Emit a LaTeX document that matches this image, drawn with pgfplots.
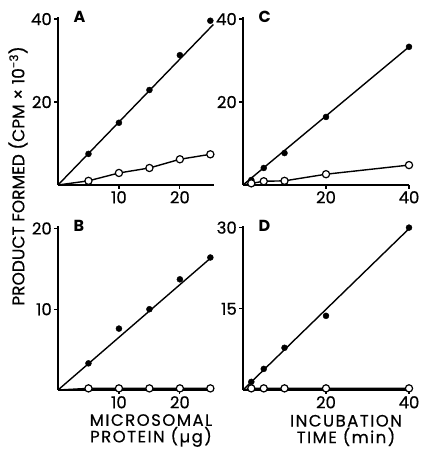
\documentclass[border=0pt]{standalone}
\usepackage{pgfplots}
\pgfplotsset{compat=1.18}
\usepackage{fontspec}
\setmainfont{Poppins}[UprightFeatures={FakeBold=0.5}]
\tikzset{letter/.style={font=\fontsize{16}{16}\selectfont\bfseries, anchor=west}}
\pgfplotsset{
  panel/.style={
    scale only axis, anchor=south west,
    axis x line=bottom, axis y line=left,
    axis line style={-, line width=1.6pt},
    xmin=0, ymin=0,
    tick align=outside, major tick length=4pt,
    tick style={line width=1.2pt, black},
    ticklabel style={font=\fontsize{16.5}{16.5}\selectfont, inner sep=2pt},
    /pgf/number format/assume math mode=true,
    clip=false,
  },
  fitline/.style={no marks, line width=1.4pt, black},
  openline/.style={no marks, line width=1.4pt, black},
  filledpts/.style={only marks, mark=*, mark size=3pt, mark options={fill=black, draw=black}},
  openpts/.style={only marks, mark=*, mark size=3.6pt, mark options={fill=white, draw=black, line width=1.2pt}},
}
\begin{document}
\begin{tikzpicture}[x=1pt,y=1pt]
\useasboundingbox (0,0) rectangle (421,449);
% Panel A
\begin{axis}[panel, at={(58pt,264pt)}, width=156pt, height=168pt,
  xmax=25.6, ymax=40.5, xtick={10,20}, ytick={20,40}]
\addplot[fitline] coordinates {(0,0) (25.5,38.7)};
\addplot[openline] coordinates {(0,0) (5,1.0) (10,2.9) (15,4.1) (20,6.2) (25,7.4)};
\addplot[filledpts] coordinates {(5,7.5) (10,15.0) (15,22.9) (20,31.3) (25,39.6)};
\addplot[openpts] coordinates {(5,1.0) (10,2.9) (15,4.1) (20,6.2) (25,7.4)};
\node[letter] at (rel axis cs:0,1) [xshift=12pt] {A};
\end{axis}
% Panel C
\begin{axis}[panel, at={(243pt,264pt)}, width=166pt, height=168pt,
  xmax=40, ymax=40.5, xtick={20,40}, ytick={20,40}]
\addplot[fitline] coordinates {(0,0) (40,33.3)};
\addplot[openline] coordinates {(0,0) (2,0.4) (5,0.9) (10,1.0) (20,2.6) (40,4.8)};
\addplot[filledpts] coordinates {(2,1.2) (5,4.1) (10,7.7) (20,16.4) (40,33.3)};
\addplot[openpts] coordinates {(2,0.4) (5,0.9) (10,1.0) (20,2.6) (40,4.8)};
\node[letter] at (rel axis cs:0,1) [xshift=12pt] {C};
\end{axis}
% Panel B
\begin{axis}[panel, at={(58pt,59pt)}, width=156pt, height=164pt,
  xmax=25.6, ymax=20.3, xtick={10,20}, ytick={10,20}]
\addplot[fitline] coordinates {(0,0) (25,16.3)};
\addplot[openline] coordinates {(0,0) (5,0.2) (10,0.2) (15,0.2) (20,0.2) (25,0.2)};
\addplot[filledpts] coordinates {(5,3.3) (10,7.6) (15,10.0) (20,13.7) (25,16.4)};
\addplot[openpts] coordinates {(5,0.2) (10,0.2) (15,0.2) (20,0.2) (25,0.2)};
\node[letter] at (rel axis cs:0,1) [xshift=12pt] {B};
\end{axis}
% Panel D
\begin{axis}[panel, at={(243pt,59pt)}, width=166pt, height=164pt,
  xmax=40, ymax=30.3, xtick={20,40}, ytick={15,30}]
\addplot[fitline] coordinates {(0,0) (40,29.8)};
\addplot[openline] coordinates {(0,0) (2,0.3) (5,0.3) (10,0.3) (20,0.3) (40,0.3)};
\addplot[filledpts] coordinates {(2,1.5) (5,3.9) (10,7.8) (20,13.7) (40,30.0)};
\addplot[openpts] coordinates {(2,0.3) (5,0.3) (10,0.3) (20,0.3) (40,0.3)};
\node[letter] at (rel axis cs:0,1) [xshift=12pt] {D};
\end{axis}
% Labels
\node[rotate=90, font=\fontsize{17}{17}\selectfont] at (18,273) {PRODUCT FORMED (CPM × 10\textsuperscript{-3})};
\node[align=center, inner sep=0pt, font=\fontsize{16.5}{15}\selectfont\addfontfeatures{LetterSpace=9}] at (151,18.5) {MICROSOMAL\\PROTEIN (µg)};
\node[align=center, inner sep=0pt, font=\fontsize{16.5}{15}\selectfont\addfontfeatures{LetterSpace=9}] at (346,18.5) {INCUBATION\\TIME (min)};
\end{tikzpicture}
\end{document}
